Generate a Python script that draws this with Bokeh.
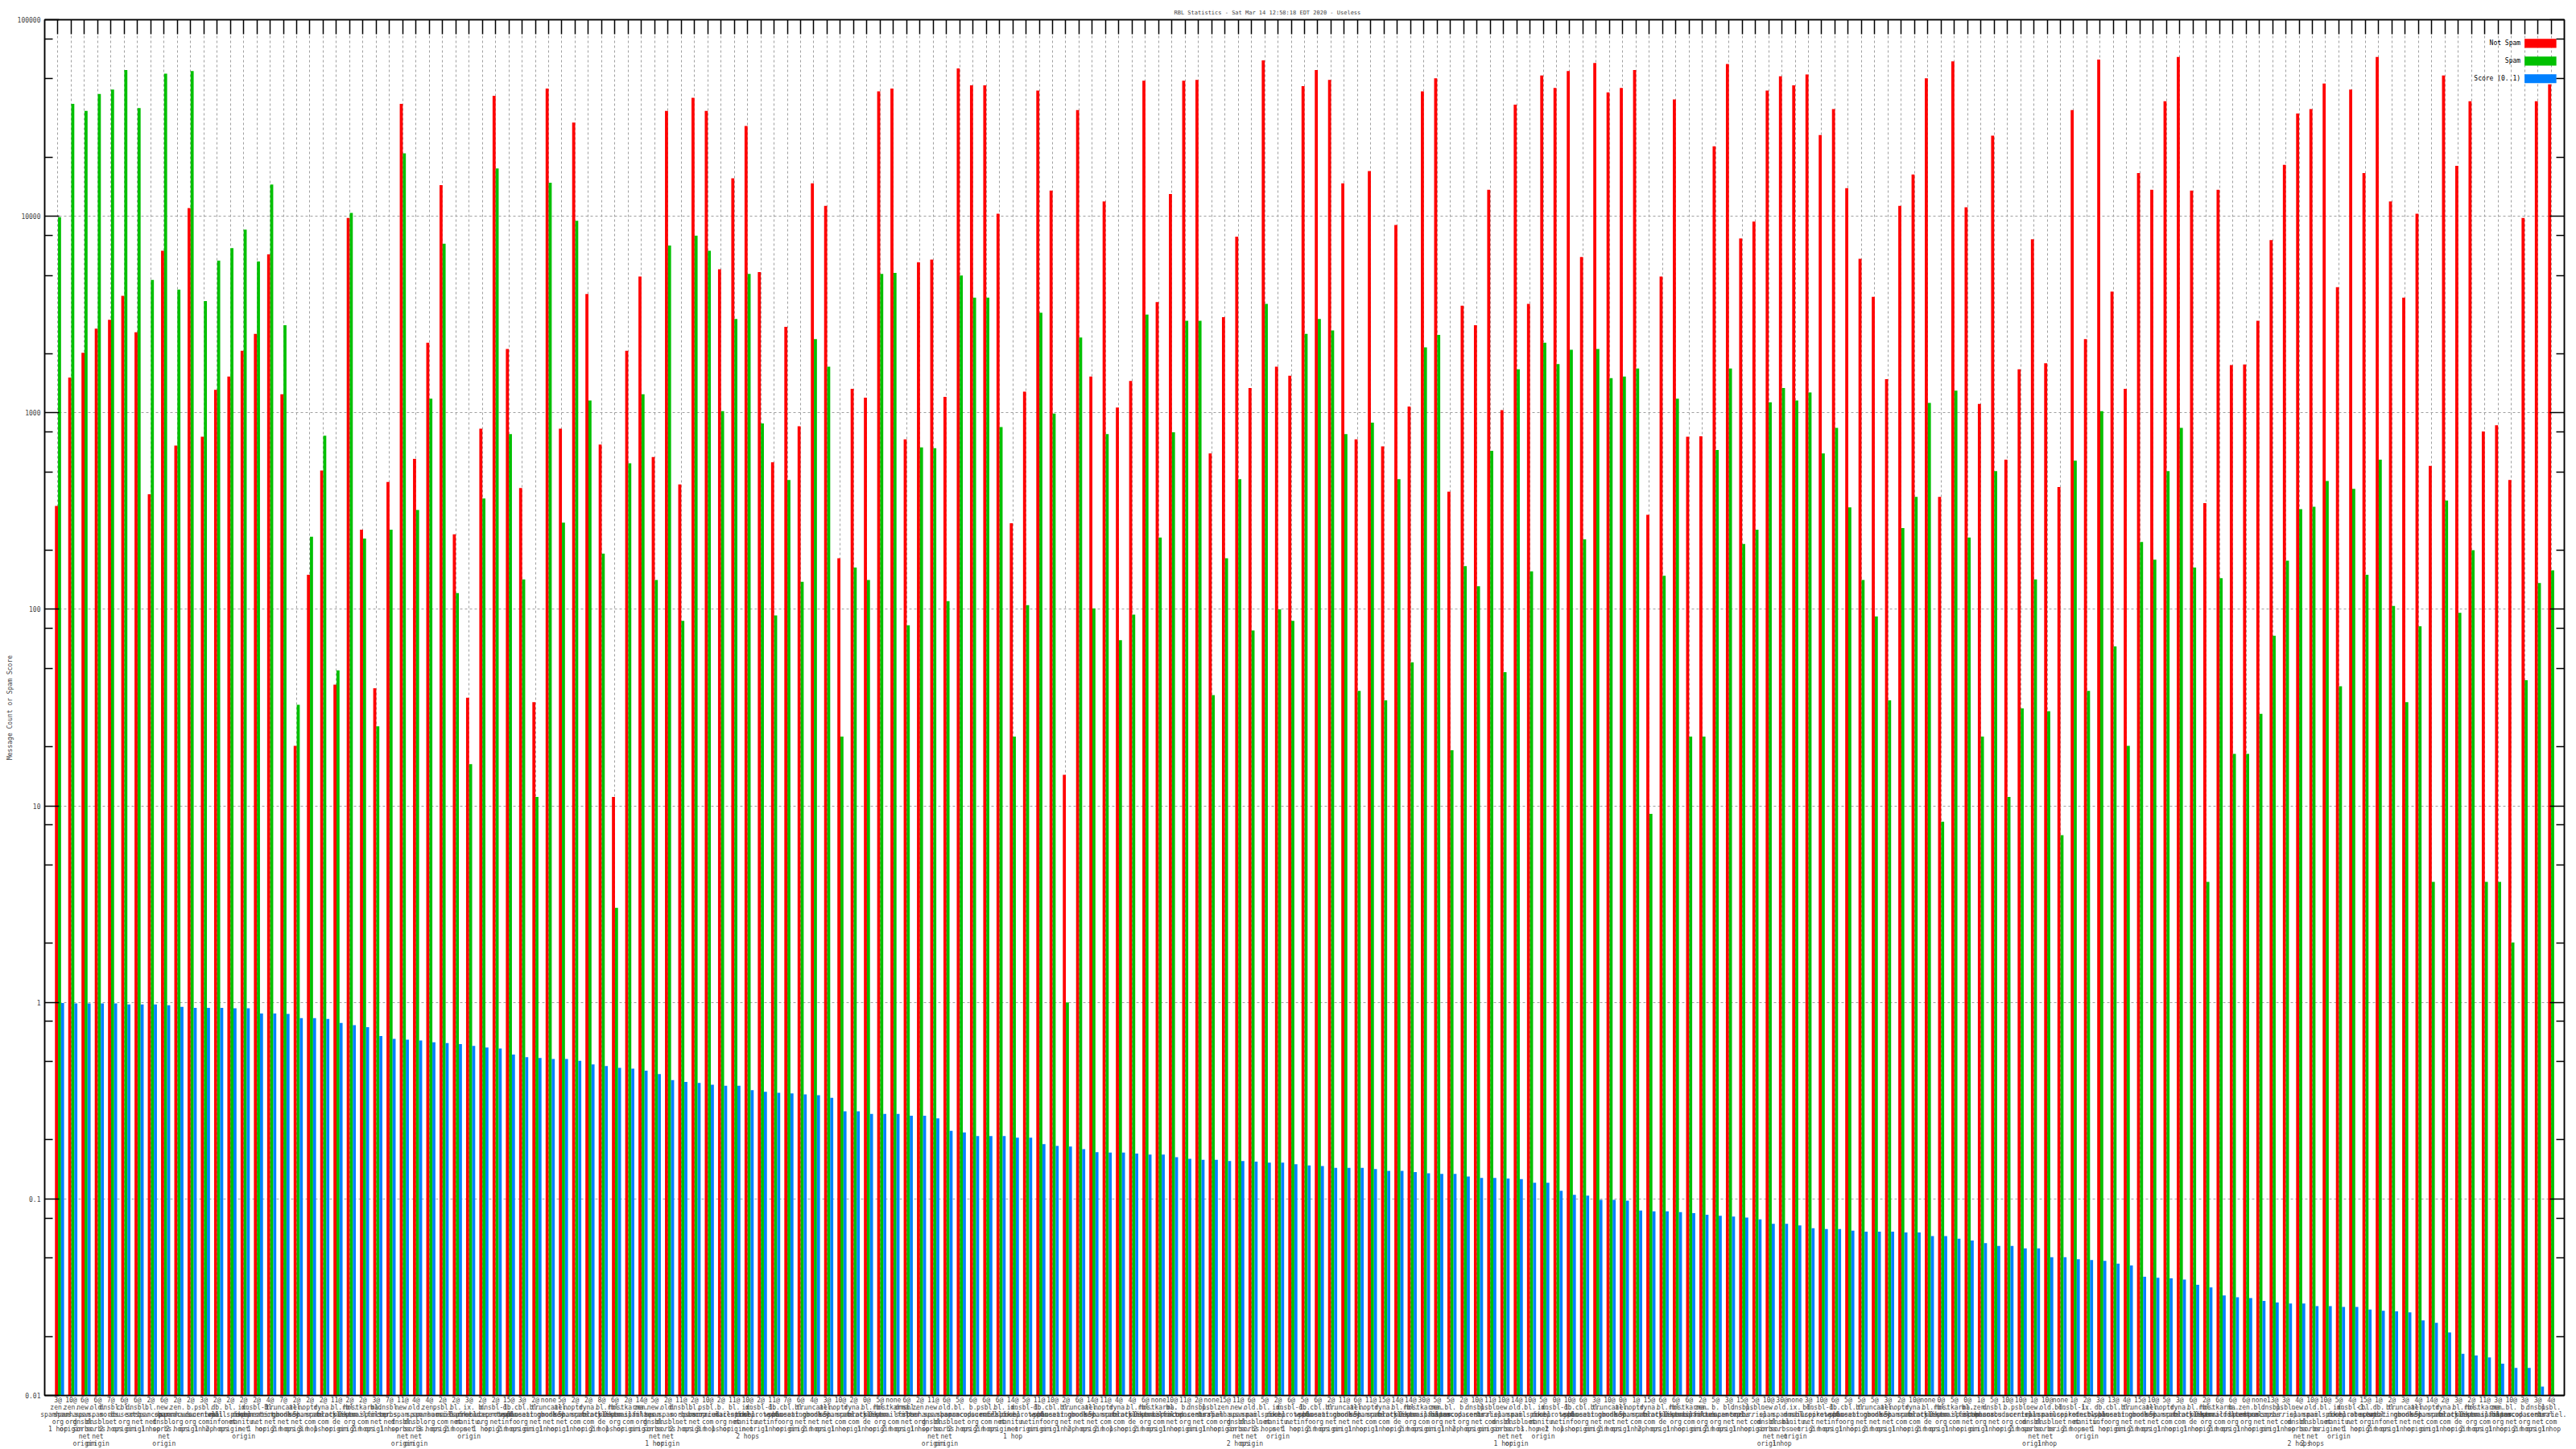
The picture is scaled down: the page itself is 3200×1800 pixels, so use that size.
from bokeh.plotting import figure
from bokeh.models import (Range1d, FixedTicker, LinearAxis, LogAxis,
                          CustomJSTickFormatter, ColumnDataSource)
from bokeh.transform import dodge
from bokeh.core.properties import value
from bokeh.embed import file_html
from bokeh.resources import INLINE

# ---------------- data ----------------
hits = ["3@", "10@", "6@", "6@", "7@", "6@", "6@", "2@", "6@", "2@",
        "2@", "3@", "2@", "2@", "2@", "2@", "4@", "7@", "2@", "2@",
        "2@", "11@", "2@", "2@", "3@", "7@", "11@", "4@", "4@", "2@",
        "2@", "3@", "2@", "2@", "15@", "3@", "2@", "none", "5@", "2@",
        "2@", "8@", "6@", "2@", "14@", "5@", "2@", "11@",
        "2@", "10@", "2@", "11@", "10@", "2@", "11@", "7@", "6@", "4@",
        "3@", "10@", "2@", "0@", "5@", "none", "6@", "2@", "11@", "6@",
        "5@", "6@", "6@", "6@", "14@", "5@", "11@", "10@", "2@", "6@",
        "14@", "11@", "4@", "4@", "6@", "none", "10@", "11@", "2@", "none",
        "15@", "11@", "6@", "5@", "2@", "6@", "5@", "6@",
        "2@", "11@", "6@", "11@", "15@", "14@", "14@", "30@", "5@", "5@",
        "2@", "10@", "11@", "10@", "14@", "10@", "5@", "0@", "10@", "6@",
        "3@", "10@", "0@", "1@", "15@", "6@", "6@", "6@", "2@", "5@",
        "3@", "15@", "5@", "10@", "30@", "none", "3@", "10@", "6@", "5@",
        "5@", "5@", "3@", "2@", "10@", "none", "0@",
        "5@", "0@", "1@", "5@", "10@", "10@", "1@", "10@", "none", "1@",
        "2@", "3@", "13@", "4@", "15@", "10@", "5@", "3@", "6@", "2@",
        "6@", "6@", "6@", "none", "13@", "3@", "4@", "10@", "10@", "5@",
        "4@", "15@", "1@", "2@", "3@", "4@", "14@", "2@", "3@", "2@",
        "11@", "3@", "10@", "3@", "3@", "4@"]

rbl_hosts = {
    "A": "zen.spamhaus.org", "B": "bl.spamcop.net", "C": "b.barracudacentral.org",
    "D": "dnsbl.sorbs.net", "E": "psbl.surriel.com", "F": "bl.mailspike.net",
    "G": "ix.dnsbl.manitu.net", "H": "dnsbl-1.uceprotect.net", "I": "db.wpbl.info",
    "J": "cbl.abuseat.org", "K": "bl.spameatingmonkey.net", "L": "truncate.gbudb.net",
    "M": "all.s5h.net", "N": "noptr.spamrats.com", "O": "dyna.spamrats.com",
    "P": "bl.blocklist.de", "Q": "rbl.0spam.org", "R": "hostkarma.junkemailfilter.com",
    "S": "new.spam.dnsbl.sorbs.net", "T": "old.spam.dnsbl.sorbs.net",
}
host_codes = ("AASTDJDBSA" "CEIFGHKLMN" "OPQRBDSTAE" "FGCHIJKLMN" "OPQRASTDBE"
              "CFGHIJKLMN" "OPQRDASTBC" "EFGHIJKLMN" "OPQRBCDEAS" "TFGHIJKLMN"
              "OPQRABCDES" "TFGHIJKLMN" "OPQRACBDES" "TGFHIJKLMN" "OPQRBADCES"
              "TFHGIJKLMN" "OPQRCABDES" "TFGHJIKLMN" "OPQRABCDE")
hop_names = {"0": "origin", "1": "1 hop", "2": "2 hops", "3": "3 hops"}
hop_codes = ("1000200102" "0120010203" "1002010030" "2010200101" "0210010203"
             "1020100201" "0102010020" "2010001202" "1020100102" "0201020010"
             "1020012001" "0102100201" "2010020100" "1002010201" "0201001020"
             "1020100201" "0102010012" "2001020100" "102010201")

not_spam = [336, 1510, 2020, 2680, 2970, 3940, 2570, 385, 6670, 681,
            11000, 755, 1310, 1530, 2070, 2520, 6400, 1244, 20.2, 150,
            509, 41.4, 9800, 254, 39.7, 445, 37300, 583, 2270, 14400,
            241, 35.5, 830, 41000, 2110, 414, 33.7, 44600, 830, 30000,
            4020, 689, 11.1, 2070, 4940, 595, 34400, 432, 40100, 34400,
            5370, 15600, 28800, 5200, 560, 2735, 855, 14700, 11300, 182,
            1324, 1194, 43200, 44600, 733, 5830, 6020, 1206, 56500, 46400,
            46400, 10300, 274, 1282, 43600, 13500, 14.4, 34700, 1530, 11900,
            1064, 1452, 48900, 3660, 12970, 48900, 49400, 621, 3065, 7870,
            1337, 62100, 1715, 1545, 45900, 55400, 49400, 14700, 733, 17000,
            675, 9020, 1076, 43200, 50400, 397, 3510, 2790, 13650, 1032,
            37000, 3580, 52000, 45000, 54800, 6210, 60200, 42700, 45000, 55400,
            303, 4940, 39300, 755, 760, 22700, 59500, 7710, 9400, 43600,
            51500, 46400, 52600, 25900, 35100, 13900, 6080, 3890, 1483, 11300,
            16300, 50400, 373, 61400, 11100, 1109, 25700, 577, 1663, 7630,
            1787, 419, 34700, 2370, 62700, 4140, 1324, 16600, 13650, 38500,
            64700, 13500, 347, 13650, 1750, 1760, 2940, 7560, 18250, 33300,
            35100, 47400, 4360, 44100, 16600, 64700, 11900, 3850, 10300, 537,
            52000, 18070, 38500, 804, 865, 455, 9800, 38500, 46900]

spam = [9900, 37300, 34400, 41900, 44100, 55400, 35500, 4740, 53100, 4230,
        54800, 3700, 5950, 6880, 8560, 5890, 14500, 2790, 32.7, 234,
        764, 48.9, 10400, 229, 25.4, 254, 20900, 320, 1180, 7250,
        121, 16.3, 366, 17500, 780, 142, 11.1, 14800, 276, 9490,
        1156, 192, 3.03, 553, 1244, 141, 7100, 87.3, 7960, 6670,
        1020, 3000, 5090, 883, 93, 455, 138, 2370, 1715, 22.5,
        163, 141, 5090, 5150, 83, 667, 660, 110, 4990, 3850,
        3850, 847, 22.5, 105, 3230, 990, 1.0, 2415, 101, 780,
        69.6, 94, 3160, 232, 796, 2940, 2940, 36.6, 182, 459,
        78, 3580, 100, 87.3, 2520, 3000, 2625, 780, 38.5, 892,
        34.4, 459, 53.7, 2155, 2490, 19.2, 166, 131, 640, 47.9,
        1663, 156, 2270, 1770, 2090, 227, 2110, 1500, 1530, 1680,
        9.1, 148, 1180, 22.5, 22.5, 647, 1680, 215, 254, 1132,
        1337, 1156, 1270, 621, 838, 330, 141, 92, 34.4, 259,
        373, 1122, 8.3, 1297, 232, 22.5, 505, 11.1, 31.3, 142,
        30.3, 7.1, 571, 38.5, 1020, 64.7, 20.2, 220, 179, 505,
        838, 163, 4.1, 144, 18.4, 18.4, 29.4, 73.3, 177, 323,
        333, 450, 40.6, 410, 150, 577, 104, 33.7, 82, 4.1,
        358, 96, 200, 4.1, 4.1, 2.02, 43.6, 136, 158]

score = [0.993, 0.987, 0.987, 0.987, 0.987, 0.977, 0.977, 0.977, 0.968, 0.949,
         0.939, 0.939, 0.939, 0.933, 0.933, 0.879, 0.879, 0.874, 0.831, 0.831,
         0.823, 0.786, 0.766, 0.748, 0.675, 0.653, 0.647, 0.640, 0.627, 0.621,
         0.614, 0.601, 0.589, 0.583, 0.543, 0.526, 0.521, 0.515, 0.515, 0.505,
         0.484, 0.474, 0.465, 0.460, 0.450, 0.432, 0.402, 0.394, 0.389, 0.381,
         0.377, 0.377, 0.358, 0.351, 0.347, 0.344, 0.340, 0.337, 0.327, 0.279,
         0.279, 0.271, 0.271, 0.271, 0.265, 0.265, 0.257, 0.222, 0.218, 0.209,
         0.209, 0.209, 0.205, 0.205, 0.190, 0.186, 0.185, 0.179, 0.173, 0.172,
         0.172, 0.170, 0.168, 0.168, 0.163, 0.160, 0.158, 0.158, 0.156, 0.156,
         0.155, 0.153, 0.153, 0.150, 0.148, 0.147, 0.144, 0.144, 0.144, 0.142,
         0.139, 0.139, 0.137, 0.135, 0.134, 0.134, 0.130, 0.128, 0.128, 0.127,
         0.126, 0.121, 0.121, 0.110, 0.105, 0.104, 0.099, 0.099, 0.098, 0.0873,
         0.0865, 0.0865, 0.0856, 0.0847, 0.0830, 0.0821, 0.0813, 0.0804, 0.0787, 0.0748,
         0.0748, 0.0733, 0.0710, 0.0703, 0.0703, 0.0689, 0.0681, 0.0681, 0.0681, 0.0675,
         0.0675, 0.0647, 0.0647, 0.0627, 0.0614, 0.0596, 0.0577, 0.0577, 0.0560, 0.0560,
         0.0505, 0.0505, 0.0494, 0.0489, 0.0484, 0.0469, 0.0459, 0.0402, 0.0397, 0.0394,
         0.0389, 0.0366, 0.0355, 0.0323, 0.0316, 0.0313, 0.0303, 0.0297, 0.0294, 0.0294,
         0.0285, 0.0285, 0.0282, 0.0282, 0.0274, 0.0270, 0.0268, 0.0265, 0.0241, 0.0234,
         0.0209, 0.0163, 0.0160, 0.0156, 0.0145, 0.0138, 0.0138, 0.0111, 0.0100]

y_major = [0.01, 0.1, 1, 10, 100, 1000, 10000, 100000]
y_minor = [0.02, 0.05, 0.08, 0.2, 0.5, 0.8, 2, 5, 8, 20, 50, 80, 200, 500, 800,
           2000, 5000, 8000, 20000, 50000, 80000]

series_names = ["Not Spam", "Spam", "Score (0..1)"]

# ---------------- styling ----------------
RED, GREEN, BLUE = "#ff0000", "#00c000", "#0080ff"
FONT = "DejaVu Sans Mono"
GRID = "#a0a0a0"

n = len(not_spam)
xs = list(range(n))


def make_label(h, hc, pc):
    host = rbl_hosts[hc].replace(".", ".\n")
    return h + "\n" + host + "\n" + hop_names[pc]


labels = [make_label(hits[i], host_codes[i], hop_codes[i]) for i in range(n)]

src = ColumnDataSource(dict(x=xs, not_spam=not_spam, spam=spam, score=score))

p = figure(width=3200, height=1800,
           x_range=Range1d(-1, n), y_range=Range1d(0.01, 100000),
           y_axis_type="log", output_backend="svg", toolbar_location=None,
           min_border_left=55, min_border_right=15, min_border_top=24,
           min_border_bottom=65)
p.background_fill_color = "white"
p.border_fill_color = "white"
p.outline_line_color = "black"
p.outline_line_width = 1.5

p.title.text = "RBL Statistics - Sat Mar 14 12:58:18 EDT 2020 - Useless"
p.title.text_font = FONT
p.title.text_font_size = "7px"
p.title.text_font_style = "normal"
p.title.align = "left"
p.title.offset = 1403
p.title.standoff = 9

yticker = FixedTicker(ticks=y_major, minor_ticks=y_minor)
xticker = FixedTicker(ticks=xs, minor_ticks=[])
blank = CustomJSTickFormatter(code="return '';")

# left axis
ya = p.yaxis[0]
ya.ticker = yticker
ya.formatter = CustomJSTickFormatter(code="return tick >= 1 ? tick.toFixed(0) : String(tick);")
ya.axis_label = "Message Count or Spam Score"
ya.axis_label_text_font = FONT
ya.axis_label_text_font_size = "8px"
ya.axis_label_text_font_style = "normal"
ya.axis_label_standoff = 2
ya.major_label_text_font = FONT
ya.major_label_text_font_size = "8px"
ya.major_label_standoff = 5
ya.major_tick_in = 18
ya.major_tick_out = 0
ya.minor_tick_in = 10
ya.minor_tick_out = 0
ya.axis_line_width = 1.5
ya.major_tick_line_width = 1.5
ya.minor_tick_line_width = 1.5

# bottom axis
xa = p.xaxis[0]
xa.ticker = xticker
xa.major_label_overrides = {i: labels[i] for i in range(n)}
xa.major_label_text_font = FONT
xa.major_label_text_font_size = "8px"
xa.major_label_text_line_height = 1.0
xa.major_label_standoff = 1
xa.major_tick_in = 0
xa.major_tick_out = 0
xa.minor_tick_in = 0
xa.minor_tick_out = 0
xa.axis_line_width = 1.5

# top axis (ticks only)
ta = LinearAxis(ticker=xticker, formatter=blank, major_tick_in=18, major_tick_out=0,
                minor_tick_in=0, minor_tick_out=0, major_label_standoff=0,
                axis_line_width=1.5, major_tick_line_width=1.5)
p.add_layout(ta, "above")

# right axis (ticks only)
ra = LogAxis(ticker=yticker, formatter=blank, major_tick_in=18, major_tick_out=0,
             minor_tick_in=10, minor_tick_out=0, major_label_standoff=0,
             axis_line_width=1.5, major_tick_line_width=1.5, minor_tick_line_width=1.5)
p.add_layout(ra, "right")

# grids
p.xgrid.ticker = xticker
for g in (p.xgrid, p.ygrid):
    g.grid_line_color = GRID
    g.grid_line_dash = "3 3"
    g.grid_line_width = 1

# bars
W = 0.23
p.vbar(x=dodge("x", -0.11, range=p.x_range), top="not_spam", bottom=0.01, width=W,
       source=src, fill_color=RED, line_color=None)
p.vbar(x=dodge("x", 0.12, range=p.x_range), top="spam", bottom=0.01, width=W,
       source=src, fill_color=GREEN, line_color=None)
p.vbar(x=dodge("x", 0.35, range=p.x_range), top="score", bottom=0.01, width=W,
       source=src, fill_color=BLUE, line_color=None)

# legend (label left of swatch, top-right inside the frame)
leg_exp = [4.880, 4.790, 4.700]
half = 0.023
p.quad(left=[186.0] * 3, right=[188.4] * 3,
       top=[10 ** (e + half) for e in leg_exp], bottom=[10 ** (e - half) for e in leg_exp],
       fill_color=[RED, GREEN, BLUE], line_color=None)
p.text(x=[185.7] * 3, y=[10 ** e for e in leg_exp], text=series_names,
       text_align="right", text_baseline="middle", text_font=value(FONT),
       text_font_size="8px", text_color="black")

open("out.html", "w").write(file_html(p, INLINE))
